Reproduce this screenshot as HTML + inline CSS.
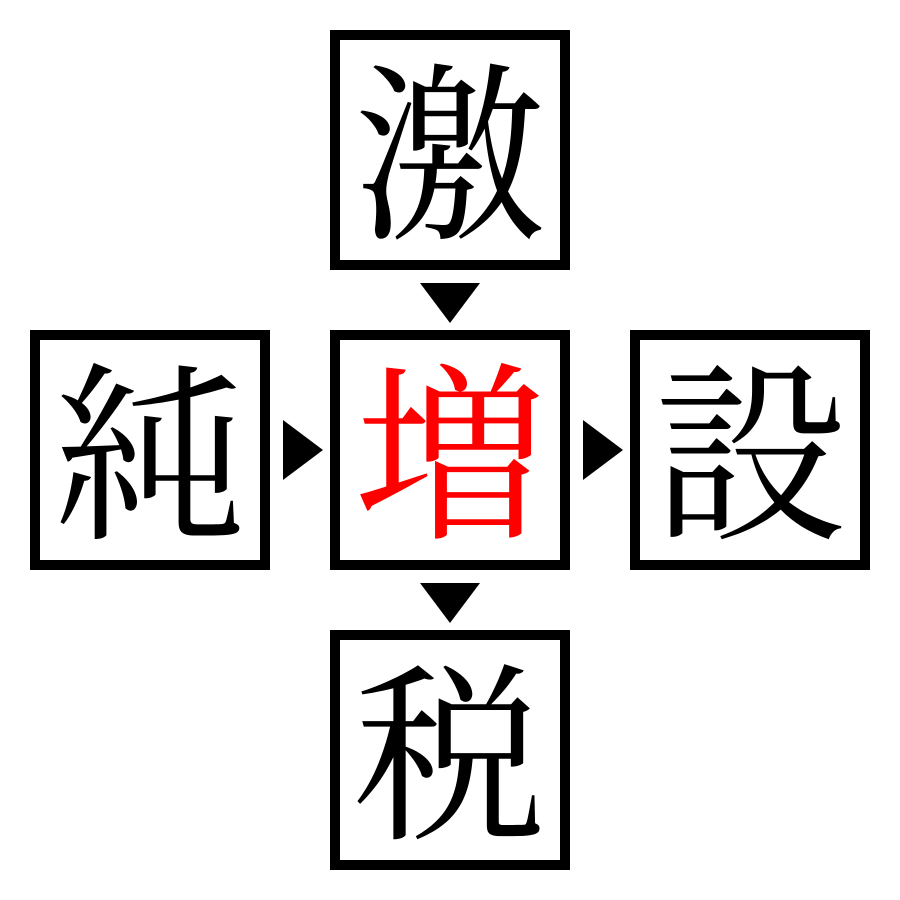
<!DOCTYPE html>
<html><head><meta charset="utf-8"><style>
html,body{margin:0;padding:0;background:#fff;width:900px;height:900px;overflow:hidden}
</style></head><body>
<svg width="900" height="900" xmlns="http://www.w3.org/2000/svg">
<g fill="none" stroke="#000" stroke-width="10">
<rect x="335" y="35" width="230" height="230"/>
<rect x="35" y="335" width="230" height="230"/>
<rect x="335" y="335" width="230" height="230"/>
<rect x="635" y="335" width="230" height="230"/>
<rect x="335" y="635" width="230" height="230"/>
</g>
<g fill="#000">
<polygon points="420,283 480,283 450,323"/>
<polygon points="420,583 480,583 450,623"/>
<polygon points="283,420 283,480 323,450"/>
<polygon points="583,420 583,480 623,450"/>
</g>
<g font-family="'Noto Serif CJK JP','Noto Serif CJK SC',serif" font-size="192" text-anchor="middle">
<text x="450" y="224">激</text>
<text x="150" y="524">純</text>
<text x="450" y="524" fill="#ff0000">増</text>
<text x="750" y="524">設</text>
<text x="450" y="824">税</text>
</g>
</svg>
</body></html>
